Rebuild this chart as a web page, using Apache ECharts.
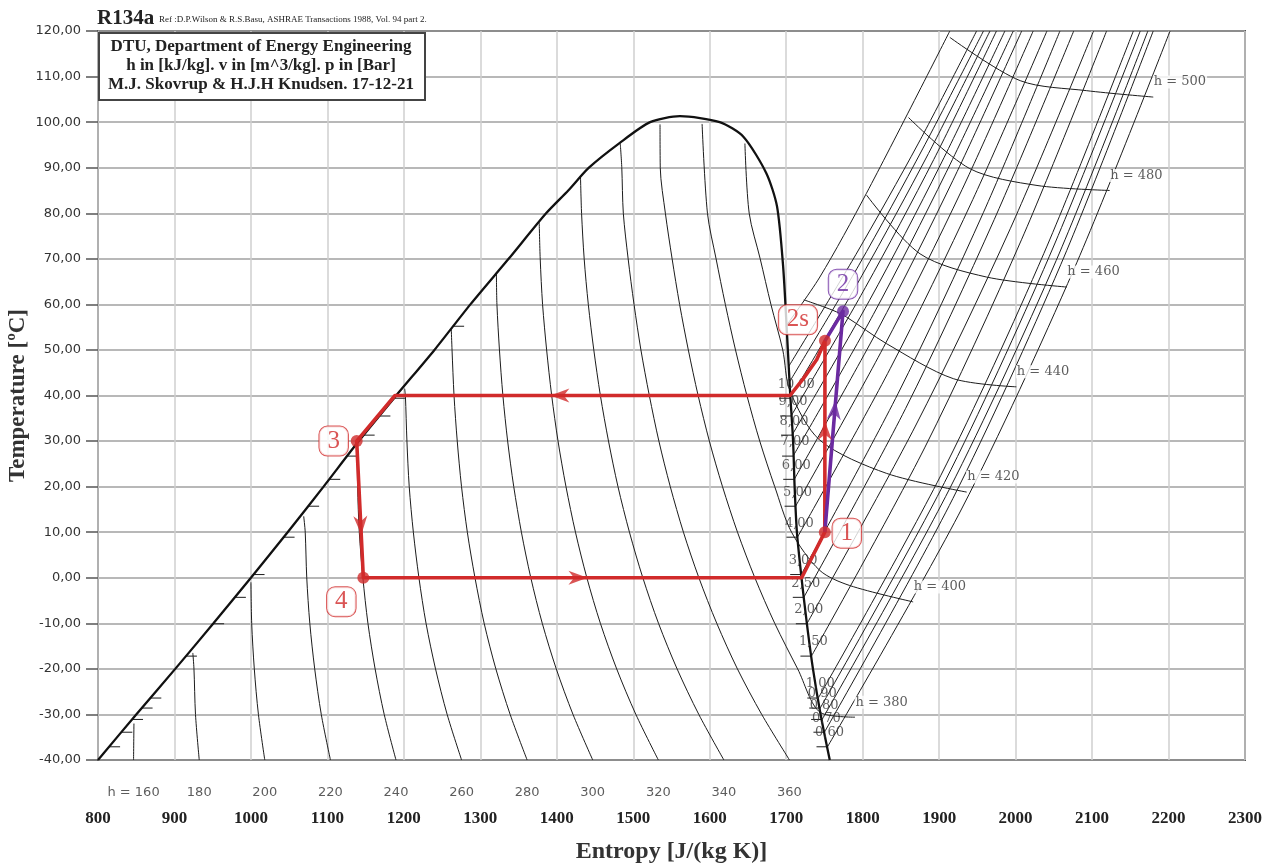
<!DOCTYPE html>
<html>
<head>
<meta charset="utf-8">
<script src="https://cdn.jsdelivr.net/npm/echarts/dist/echarts.min.js"></script>
<style>
html, body { margin: 0; padding: 0; background: #fff; }
#chart { width: 1274px; height: 865px; }
</style>
</head>
<body>
<div id="chart"></div>
<script>
// saturation dome, entropy J/(kg K) vs temperature C
const satLiquid = [[800,-40],[850,-30],[901,-20],[951,-10],[1000,0],[1048,10],[1095,20],[1141,30],[1190,40],[1240,50],[1287,60],[1337,70],[1386,80],[1415,85],[1442,90],[1482,95.4],[1522,100],[1561,101.3]];
const satVapor = [[1613,100],[1644,96.8],[1674,88.8],[1688,81.5],[1696,68.3],[1701,53.7],[1705,41],[1709,30],[1711,20],[1714,10],[1720,0],[1727,-10],[1735,-20],[1745,-30],[1757,-40]];

// constant enthalpy lines (kJ/kg)
const h160 = [[847,-32],[846.5,-40]];
const h180 = [[924,-16.5],[925.5,-20],[927.5,-30],[932.4,-40]];
const h200 = [[1000,-1],[1001,-10],[1004.4,-20],[1009.8,-30],[1018.1,-40]];
const h220 = [[1069,13.5],[1071,10],[1073,0],[1077,-10],[1083.4,-20],[1092,-30],[1104,-40]];
const h240 = [[1139,28],[1139.5,20],[1141.7,10],[1146.4,0],[1153,-10],[1162.4,-20],[1174.3,-30],[1189.7,-40]];
const h260 = [[1201,41.5],[1202,40],[1204,30],[1207,20],[1212.4,10],[1219.7,0],[1229,-10],[1241.4,-20],[1256.6,-30],[1275.5,-40]];
const h280 = [[1262,54.5],[1263,50],[1265.6,40],[1269.8,30],[1275.4,20],[1283,10],[1293,0],[1305,-10],[1320.3,-20],[1339,-30],[1361.2,-40]];
const h300 = [[1321,67],[1321.7,60],[1325,50],[1329.5,40],[1335.7,30],[1343.7,20],[1353.7,10],[1366,0],[1381,-10],[1399.3,-20],[1421.2,-30],[1447,-40]];
const h320 = [[1377,78],[1378.3,70],[1381.4,60],[1386.7,50],[1393.3,40],[1401.6,30],[1412,20],[1424.4,10],[1439.3,0],[1457,-10],[1478.3,-20],[1503.4,-30],[1532.8,-40]];
const h340 = [[1431,88],[1432.4,80],[1435.8,70],[1441.2,60],[1448.4,50],[1457,40],[1467.6,30],[1480,20],[1495,10],[1512.5,0],[1533,-10],[1557.3,-20],[1585.7,-30],[1618.5,-40]];
const h360 = [[1483,95.3],[1485,90],[1487,80],[1493.3,70],[1501,60],[1510,50],[1521,40],[1533.5,30],[1548.4,20],[1565.6,10],[1585.8,0],[1609.2,-10],[1636.2,-20],[1668,-30],[1704.3,-40]];
const h380 = [[1535,99.5],[1535.3,90],[1542,80],[1550.8,70],[1560.6,60],[1572,50],[1584.8,40],[1599.5,30],[1616.7,20],[1636.3,10],[1659,0],[1685,-10],[1715,-20],[1745,-29.6],[1790,-30.6]];
const h400 = [[1590,99.6],[1597,80],[1608.3,70],[1620.4,60],[1633.7,50],[1648.6,40],[1665.4,30],[1685,20],[1707,10],[1744,1.6],[1783,-1.7],[1866,-5.3]];
const h420 = [[1646,95.3],[1651.6,80],[1666,70],[1680,60],[1695.5,50],[1705,41],[1744,30.2],[1831.4,22.9],[1936,18.8]];
const h440 = [[1723,61],[1761,58.7],[1779,57.2],[1831,51.4],[1918.5,43.7],[2001,41.9]];
const h460 = [[1805,84],[1875,71.1],[1962,66],[2067,63.8]];
const h480 = [[1860,101],[1940,89.8],[2028,86.1],[2123,85]];
const h500 = [[1914,118.6],[2006,109.1],[2093,106.9],[2180,105.5]];

// constant pressure lines (bar)
const p060 = [[1754,-37.1],[1930,15.3],[2076,67.6],[2202,120]];
const p070 = [[1750,-33.9],[1918,17.4],[2059,68.7],[2180,120]];
const p080 = [[1747,-31.1],[1913,19.3],[2053,69.6],[2173,120]];
const p090 = [[1744.5,-28.6],[1907,20.9],[2044,70.5],[2163,120]];
const p100 = [[1742,-26.4],[1902,22.4],[2037,71.2],[2154,120]];
const p150 = [[1733,-17.2],[1881,28.5],[2008,74.3],[2119,120]];
const p200 = [[1727,-10.1],[1869,33.3],[1993,76.6],[2102,120]];
const p250 = [[1723,-4.3],[1856,37.1],[1972,78.6],[2076,120]];
const p300 = [[1719.6,0.7],[1846.5,40.5],[1958,80.2],[2058,120]];
const p400 = [[1714.7,8.9],[1836,45.9],[1944,83],[2041,120]];
const p500 = [[1712.3,15.7],[1827,50.5],[1930,85.2],[2023,120]];
const p600 = [[1710.5,21.6],[1819.5,54.4],[1918,87.2],[2008,120]];
const p700 = [[1709,26.7],[1814,57.8],[1909,88.9],[1997,120]];
const p800 = [[1707.6,31.3],[1809,60.9],[1901,90.4],[1986,120]];
const p900 = [[1706.4,35.5],[1803.5,63.7],[1893,91.8],[1975,120]];
const p1000 = [[1705.2,39.4],[1799,66.3],[1886,93.1],[1966.5,120]];
const p1100 = [[1704,42.9],[1795,68.6],[1879,94.3],[1958,120]];
const p1200 = [[1703,46.3],[1791,70.9],[1873,95.4],[1949,120]];
const p1500 = [[1699.5,55.2],[1744,66],[1805,84.4],[1914,120]];

// pressure marks on the saturation lines
const pLabels = ['0,60','0,70','0,80','0,90','1,00','1,50','2,00','2,50','3,00','4,00','5,00','6,00','7,00','8,00','9,00','10,00'];
const vaporMarks = [[1754,-37.1],[1750,-33.9],[1747,-31.1],[1744.5,-28.6],[1742,-26.4],[1733,-17.2],[1727,-10.1],[1723,-4.3],[1719.6,0.7],[1714.7,8.9],[1712.3,15.7],[1710.5,21.6],[1709,26.7],[1707.6,31.3],[1706.4,35.5],[1705.2,39.4]];
const liquidMarks = [[814.5,-37.1],[830.5,-33.9],[844.5,-31.1],[857,-28.6],[868.4,-26.4],[915,-17.2],[950.5,-10.1],[979,-4.3],[1003.4,0.7],[1042.7,8.9],[1074.8,15.7],[1102.4,21.6],[1125.8,26.7],[1147.4,31.3],[1168,35.5],[1187,39.4],[1264.4,55.2]];

// enthalpy labels
const hBottomText = ['h = 160','180','200','220','240','260','280','300','320','340','360'];
const hBottomS = [846.5,932.4,1018.1,1104,1189.7,1275.5,1361.2,1447,1532.8,1618.5,1704.3];
const hEndText = ['h = 380','h = 400','h = 420','h = 440','h = 460','h = 480','h = 500'];
const hEnds = [[1790,-30.6],[1866,-5.3],[1936,18.8],[2001,41.9],[2067,63.8],[2123,85],[2180,105.5]];

// refrigeration cycle
const cycleRed = [[1750.7,52],[1740,47.9],[1722.4,43.7],[1705,40],[1188.4,40],[1138.3,30],[1147,0],[1720.2,0],[1750.5,10],[1750.7,52]];
const cyclePurple = [[1750.5,10],[1774.3,58.5],[1750.7,52]];
const redDots = [[1750.5,10],[1750.7,52],[1138.3,30],[1147,0]];
const purpleDots = [[1774.3,58.5]];
const stateNames = ['1','2s','3','4'];
const redArrows = [[1404,40,90],[1143.7,11.5,183],[1427.7,0,-90],[1750.6,32.3,0]];
const purpleArrows = [[1763.3,36.8,-5]];

const SERIF = "'Liberation Serif', 'DejaVu Serif', serif";
const DSERIF = "'DejaVu Serif', serif";
const SANS = "'DejaVu Sans', sans-serif";
const RED = '#d12b2b';
const PURPLE = '#6b2aa0';
const ARROW = 'path://M0,0 L9,24 L0,17 L-9,24 Z';

const isenthalps = [h160,h180,h200,h220,h240,h260,h280,h300,h320,h340,h360,h380,h400,h420,h440,h460,h480,h500];
const isobars = [p060,p070,p080,p090,p100,p150,p200,p250,p300,p400,p500,p600,p700,p800,p900,p1000,p1100,p1200,p1500];

function thinLine(data) {
  return {
    type: 'line', data: data, symbol: 'none', smooth: 0.3, silent: true, z: 3,
    lineStyle: { color: '#1c1c1c', width: 1 }
  };
}

const chart = echarts.init(document.getElementById('chart'));

const series = [];
isenthalps.forEach(d => series.push(thinLine(d)));
isobars.forEach(d => series.push(thinLine(d)));

series.push({
  type: 'line', data: satLiquid.concat(satVapor), symbol: 'none', smooth: 0.25, silent: true, z: 4,
  lineStyle: { color: '#111', width: 2.3 }
});

// short pressure ticks on both saturation lines
series.push({
  type: 'custom', silent: true, z: 4,
  data: vaporMarks.map(d => [d[0], d[1], -1]).concat(liquidMarks.map(d => [d[0], d[1], 1])),
  encode: { x: 0, y: 1 },
  renderItem: function (params, api) {
    const p = api.coord([api.value(0), api.value(1)]);
    const dir = api.value(2);
    return {
      type: 'line',
      shape: { x1: p[0], y1: p[1], x2: p[0] + dir * 11, y2: p[1] },
      style: { stroke: '#1c1c1c', lineWidth: 1 }
    };
  }
});

// pressure labels
series.push({
  type: 'scatter', silent: true, symbolSize: 1, z: 5, clip: false,
  itemStyle: { color: 'transparent' },
  data: vaporMarks.map((d, i) => ({ value: d, name: pLabels[i] })),
  label: {
    show: true, formatter: '{b}', position: [-12, -20],
    fontFamily: DSERIF, fontSize: 13, color: '#3a3a3a'
  }
});

// enthalpy labels under the x axis
series.push({
  type: 'scatter', silent: true, symbolSize: 1, z: 5, clip: false,
  itemStyle: { color: 'transparent' },
  data: hBottomS.map((s, i) => ({ value: [s, -40], name: hBottomText[i] })),
  label: {
    show: true, formatter: '{b}', position: 'inside', offset: [0, 33],
    fontFamily: SANS, fontSize: 13, color: '#333'
  }
});

// enthalpy labels at line ends
series.push({
  type: 'scatter', silent: true, symbolSize: 1, z: 6, clip: false,
  itemStyle: { color: 'transparent' },
  data: hEnds.map((d, i) => ({ value: d, name: hEndText[i] })),
  label: {
    show: true, formatter: '{b}', position: [0, -21],
    fontFamily: DSERIF, fontSize: 13, color: '#333',
    backgroundColor: '#fff', padding: [0, 1]
  }
});

// cycle
series.push({
  type: 'line', data: cycleRed, symbol: 'none', silent: true, z: 10,
  lineStyle: { color: RED, width: 3.6, join: 'round' }
});
series.push({
  type: 'line', data: cyclePurple, symbol: 'none', silent: true, z: 11,
  lineStyle: { color: PURPLE, width: 3.6, join: 'round' }
});
series.push({
  type: 'scatter', data: redArrows.map(d => ({ value: [d[0], d[1]], symbolRotate: d[2] })),
  symbol: ARROW, symbolSize: [14, 19], silent: true, z: 12,
  itemStyle: { color: RED }
});
series.push({
  type: 'scatter', data: purpleArrows.map(d => ({ value: [d[0], d[1]], symbolRotate: d[2] })),
  symbol: ARROW, symbolSize: [14, 19], silent: true, z: 12,
  itemStyle: { color: PURPLE }
});

const boxLabel = (color) => ({
  show: true, position: 'inside', formatter: '{b}',
  fontFamily: SERIF, fontSize: 25, color: color,
  backgroundColor: '#fff', borderColor: color, borderWidth: 1, borderRadius: 8,
  padding: [3, 8, 1, 8]
});
const redOffsets = [[22, 1], [-27, -21], [-23, 0], [-22, 24]];
series.push({
  type: 'scatter', silent: true, z: 13, symbolSize: 12,
  itemStyle: { color: RED },
  data: redDots.map((d, i) => ({
    value: d, name: stateNames[i],
    label: Object.assign(boxLabel(RED), { offset: redOffsets[i] })
  }))
});
series.push({
  type: 'scatter', silent: true, z: 13, symbolSize: 12,
  itemStyle: { color: PURPLE },
  data: purpleDots.map(d => ({
    value: d, name: '2',
    label: Object.assign(boxLabel(PURPLE), { offset: [0, -27] })
  }))
});

const boxFont = "bold 17px 'Liberation Serif'";

chart.setOption({
  animation: false,
  backgroundColor: '#fff',
  grid: {
    left: 98, right: 29, top: 31, bottom: 105, outerBoundsMode: 'none', containLabel: false,
    show: true, borderColor: '#555', borderWidth: 2, backgroundColor: 'transparent'
  },
  xAxis: {
    type: 'value', min: 800, max: 2300, interval: 100,
    name: 'Entropy [J/(kg K)]', nameLocation: 'middle', nameGap: 80, nameMoveOverlap: false,
    nameTextStyle: { fontFamily: SERIF, fontWeight: 'bold', fontSize: 24, color: '#333' },
    axisLine: { show: false },
    axisTick: { show: false },
    axisLabel: { margin: 50, fontFamily: SERIF, fontWeight: 'bold', fontSize: 17, color: '#222', formatter: v => String(v) },
    splitLine: { show: true, lineStyle: { color: '#cfcfcf', width: 1.5 } }
  },
  yAxis: {
    type: 'value', min: -40, max: 120, interval: 10,
    name: 'Temperature [ºC]', nameLocation: 'middle', nameGap: 68, nameRotate: 90, nameMoveOverlap: false,
    nameTextStyle: { fontFamily: SERIF, fontWeight: 'bold', fontSize: 23, color: '#333' },
    axisLine: { show: false },
    axisTick: { show: true, length: 12, lineStyle: { color: '#555', width: 1.5 } },
    axisLabel: {
      margin: 17, fontFamily: SANS, fontSize: 13, color: '#333',
      formatter: v => v.toFixed(2).replace('.', ',')
    },
    splitLine: { show: true, lineStyle: { color: '#a0a0a0', width: 1.5 } }
  },
  graphic: [
    { type: 'text', left: 97, top: 8, z: 100, style: { text: 'R134a', font: "bold 21px 'Liberation Serif'", fill: '#222' } },
    { type: 'text', left: 159, top: 15, z: 100, style: { text: 'Ref :D.P.Wilson & R.S.Basu, ASHRAE Transactions 1988, Vol. 94 part 2.', font: "9px 'Liberation Serif'", fill: '#222' } },
    { type: 'rect', left: 98, top: 32, z: 100, shape: { x: 0, y: 0, width: 326, height: 67 }, style: { fill: '#fff', stroke: '#444', lineWidth: 2 } },
    { type: 'text', x: 261, y: 38, z: 101, style: { text: 'DTU, Department of Energy Engineering', textAlign: 'center', font: boxFont, fill: '#222' } },
    { type: 'text', x: 261, y: 57, z: 101, style: { text: 'h in [kJ/kg]. v in [m^3/kg]. p in [Bar]', textAlign: 'center', font: boxFont, fill: '#222' } },
    { type: 'text', x: 261, y: 76, z: 101, style: { text: 'M.J. Skovrup & H.J.H Knudsen. 17-12-21', textAlign: 'center', font: boxFont, fill: '#222' } }
  ],
  series: series
});
</script>
</body>
</html>
